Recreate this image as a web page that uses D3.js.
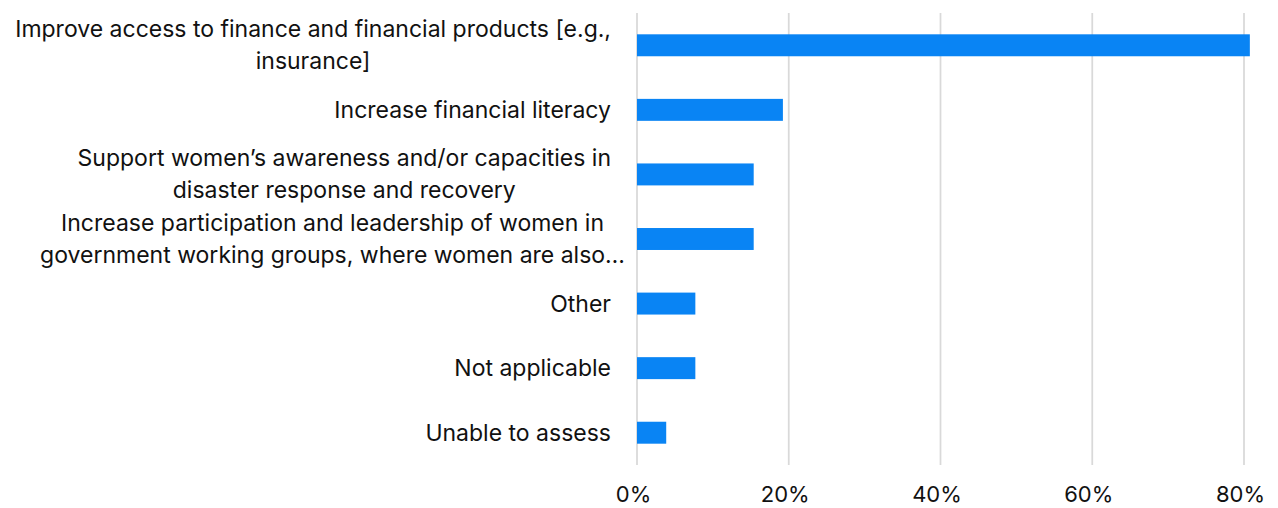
<!DOCTYPE html>
<html>
<head>
<meta charset="utf-8">
<script src="https://cdn.jsdelivr.net/npm/d3@7"></script>
<style>
  html, body { margin: 0; padding: 0; background: #fff; }
  svg { display: block; }
  text { font-family: Inter, "Noto Sans", sans-serif; fill: #111; }
</style>
</head>
<body>
<svg id="chart" width="1278" height="508"></svg>
<script>
// Categories (each entry is the list of wrapped lines shown on the axis)
const categories = [
  ["Improve access to finance and financial products [e.g.,", "insurance]"],
  ["Increase financial literacy"],
  ["Support women\u2019s awareness and/or capacities in", "disaster response and recovery"],
  ["Increase participation and leadership of women in", "government working groups, where women are also\u2026"],
  ["Other"],
  ["Not applicable"],
  ["Unable to assess"]
];
// Share of respondents (%)
const values = [80.77, 19.23, 15.38, 15.38, 7.69, 7.69, 3.85];
const xTicks = [0, 20, 40, 60, 80];
const xTickLabels = ["0%", "20%", "40%", "60%", "80%"];

const svg = d3.select("#chart");
const plot = { left: 637, top: 13, bottom: 465 };
const fontSize = 23;

const x = d3.scaleLinear().domain([0, 80]).range([plot.left, plot.left + 607]);
const y = d3.scaleBand()
  .domain(d3.range(categories.length))
  .range([plot.top, plot.bottom])
  .paddingInner(0.66)
  .paddingOuter(0.33);

// vertical gridlines
svg.append("g")
  .selectAll("line")
  .data(xTicks)
  .join("line")
  .attr("x1", d => x(d)).attr("x2", d => x(d))
  .attr("y1", plot.top).attr("y2", plot.bottom)
  .attr("stroke", "#d9d9d9")
  .attr("stroke-width", 1.75);

// bars
svg.append("g")
  .selectAll("rect")
  .data(values)
  .join("rect")
  .attr("x", x(0))
  .attr("y", (d, i) => y(i))
  .attr("width", d => x(d) - x(0))
  .attr("height", y.bandwidth())
  .attr("fill", "#0984f4");

// x axis tick labels
const xAxis = d3.axisBottom(x)
  .tickValues(xTicks)
  .tickFormat((d, i) => xTickLabels[i])
  .tickSize(0)
  .tickPadding(0);
const gx = svg.append("g")
  .attr("transform", `translate(0, 494)`)
  .call(xAxis);
gx.select(".domain").remove();
gx.selectAll("text")
  .attr("dy", "0.35em")
  .attr("dx", -4)
  .style("font-size", "22px")
  .style("font-family", "Inter, 'Noto Sans', sans-serif")
  .attr("fill", "#111");

// category labels: wrapped lines centred within a block that ends near the axis
const labelRight = 611;
const lineH = 32;
const lg = svg.append("g");
categories.forEach((lines, i) => {
  const cy = y(i) + y.bandwidth() / 2;
  const g = lg.append("g");
  const texts = lines.map((ln, j) => g.append("text")
    .attr("y", cy + (j - (lines.length - 1) / 2) * lineH)
    .attr("dy", "0.35em")
    .style("font-size", fontSize + "px")
    .text(ln));
  if (lines.length === 1) {
    texts[0].attr("x", labelRight).attr("text-anchor", "end");
  } else {
    const widths = texts.map(t => t.node().getComputedTextLength());
    const maxW = d3.max(widths);
    // a truncated line (ending in an ellipsis) may run slightly past the block edge
    const overhang = lines.some(l => l.endsWith("\u2026")) ? 14 : 0;
    const cx = labelRight + overhang - maxW / 2;
    texts.forEach(t => t.attr("x", cx).attr("text-anchor", "middle"));
  }
});
</script>
</body>
</html>
